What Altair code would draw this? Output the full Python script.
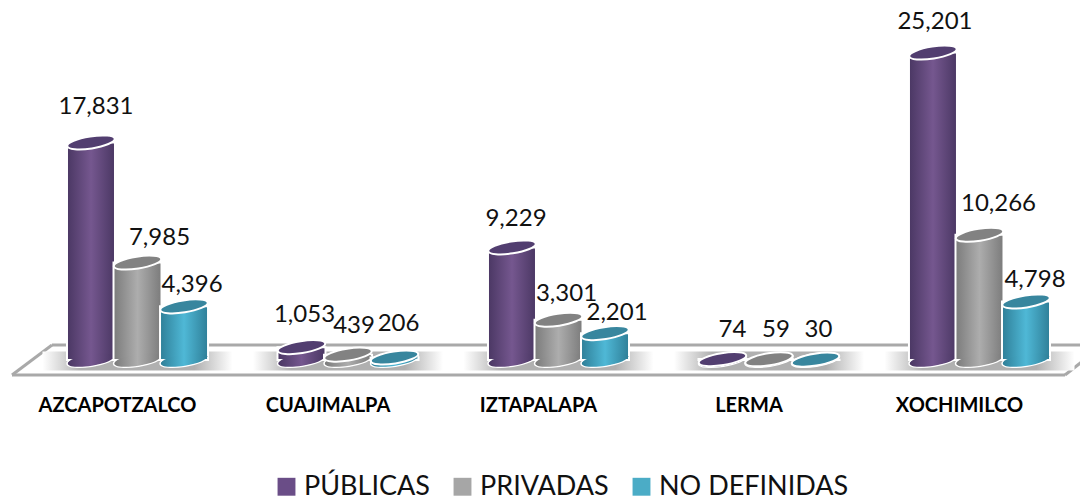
import altair as alt
import pandas as pd

categories = ["AZCAPOTZALCO", "CUAJIMALPA", "IZTAPALAPA", "LERMA", "XOCHIMILCO"]
series = ["PÚBLICAS", "PRIVADAS", "NO DEFINIDAS"]
publicas = [17831, 1053, 9229, 74, 25201]
privadas = [7985, 439, 3301, 59, 10266]
no_definidas = [4396, 206, 2201, 30, 4798]
values = [publicas, privadas, no_definidas]

# hand placement of the data labels, (dx, dy) from the top of each cylinder
nudges = [
    [(5, -35), (22, -25), (8, -21)],
    [(3, -32), (6, -29), (4, -33)],
    [(4, -28), (8, -26), (12, -20)],
    [(10, -29), (7, -29), (3, -30)],
    [(2, -31), (19, -31), (9, -21)],
]

edge = {"PÚBLICAS": "#4a3763", "PRIVADAS": "#7b7b7b", "NO DEFINIDAS": "#2f7f98"}
mid = {"PÚBLICAS": "#75578f", "PRIVADAS": "#adadad", "NO DEFINIDAS": "#4fb8d6"}
cap = {"PÚBLICAS": "#523e70", "PRIVADAS": "#828282", "NO DEFINIDAS": "#38869e"}
swatch = ["#6a4d87", "#a6a6a6", "#4bacc6"]

rows = [
    {"cat": c, "serie": s, "v": values[j][i], "zero": 0}
    for i, c in enumerate(categories)
    for j, s in enumerate(series)
]
df = pd.DataFrame(rows)
FONT = "Lato"
PAD_L, PAD_T = 29, 6

x_enc = alt.X(
    "cat:N",
    sort=categories,
    title=None,
    scale=alt.Scale(domain=categories, paddingInner=0.337, paddingOuter=0.146, round=False),
    axis=alt.Axis(
        domain=False, ticks=False, labelAngle=0, labelOverlap=False,
        labelOffset=-20, labelPadding=35, labelFont=FONT, labelFontSize=20,
        labelFontWeight="bold", labelColor="black",
    ),
)
xo = alt.XOffset("serie:N", sort=series, scale=alt.Scale(domain=series, round=False))
y_scale = alt.Scale(domain=[0, 28361], nice=False, zero=False)
y_top = alt.Y("v:Q", scale=y_scale, axis=None, title=None)
y_zero = alt.Y("zero:Q", scale=y_scale, axis=None, title=None)

ELLIPSE = "M-0.988,0.156 A1,0.25,-9,1,1,0.988,-0.156 A1,0.25,-9,1,1,-0.988,0.156 Z"
SHADOW = "M-1,-0.1 L1,-0.1 L1,0.1 L-1,0.1 Z"
SIZE = 48 ** 2


def grad(a, b):
    return alt.LinearGradient(
        gradient="linear", x1=0, x2=1, y1=0, y2=0,
        stops=[
            alt.GradientStop(color=a, offset=0),
            alt.GradientStop(color=b, offset=0.5),
            alt.GradientStop(color=a, offset=1),
        ],
    )


def floor(x, x2, y, y2):
    return alt.Chart(pd.DataFrame({"a": [0]})).mark_rule(color="#a9a9a9", strokeWidth=3).encode(
        x=alt.value(x - 8 - PAD_L), x2=alt.value(x2 - 8 - PAD_L),
        y=alt.value(y - 8 - PAD_T), y2=alt.value(y2 - 8 - PAD_T),
    )


layers = [
    floor(52, 1088, 345, 345),
    floor(12, 1065, 375, 375),
    floor(12, 52, 375, 345),
    floor(1065, 1088, 375, 357),
]

shadow_grad = alt.LinearGradient(
    gradient="linear", x1=0, x2=1, y1=0, y2=0,
    stops=[
        alt.GradientStop(color="#ffffff", offset=0),
        alt.GradientStop(color="#b0b0b0", offset=0.2),
        alt.GradientStop(color="#b0b0b0", offset=0.8),
        alt.GradientStop(color="#ffffff", offset=1),
    ],
)
layers.append(
    alt.Chart(pd.DataFrame({"cat": categories})).mark_point(
        filled=True, fill=shadow_grad, shape=SHADOW, size=190 ** 2, opacity=1, stroke=None
    ).encode(x=x_enc, y=alt.value(361 - 8 - PAD_T))
)

for s in series:
    d = df[df.serie == s]
    g = grad(edge[s], mid[s])
    base = alt.Chart(d).encode(x=x_enc, xOffset=xo)
    layers += [
        base.mark_point(filled=True, fill=g, shape=ELLIPSE, size=SIZE, stroke="white",
                        strokeWidth=2, opacity=1).encode(y=y_zero),
        base.mark_bar(fill=g, stroke="white", strokeWidth=2, width=48).encode(y=y_top, y2=alt.Y2("zero:Q")),
        base.mark_point(filled=True, fill=g, shape=ELLIPSE, size=(SIZE - 100), opacity=1,
                        strokeWidth=0).encode(y=y_zero),
        base.mark_point(filled=True, fill=cap[s], shape=ELLIPSE, size=SIZE, stroke="white",
                        strokeWidth=2, opacity=1).encode(y=y_top),
    ]

for i, c in enumerate(categories):
    for j, s in enumerate(series):
        dx, dy = nudges[i][j]
        d = df[(df.cat == c) & (df.serie == s)]
        layers.append(
            alt.Chart(d).mark_text(font=FONT, fontSize=24, color="#111111", dx=dx, dy=dy).encode(
                x=x_enc, xOffset=xo, y=y_top, text=alt.Text("v:Q", format=",")
            )
        )

legend = alt.Legend(
    title=None, orient="none", legendX=236, legendY=459, direction="horizontal",
    symbolType="square", symbolSize=320, symbolStrokeWidth=0, symbolOpacity=1,
    labelFont=FONT, labelFontSize=27, labelColor="#111111", labelOffset=4, labelLimit=300,
    columnPadding=19, columns=3,
)
layers.append(
    alt.Chart(df).mark_square(size=0, opacity=1).encode(
        color=alt.Color("serie:N", sort=series, legend=legend,
                        scale=alt.Scale(domain=series, range=swatch)),
        x=x_enc,
        y=y_zero,
    )
)

chart = alt.layer(*layers).properties(
    width=1043,
    height=346,
    padding={"left": PAD_L, "top": PAD_T, "right": 0, "bottom": 138},
    autosize=alt.AutoSizeParams(type="none"),
).configure_view(stroke=None)

chart.save("out.html", embed_options={"renderer": "svg", "actions": False})
